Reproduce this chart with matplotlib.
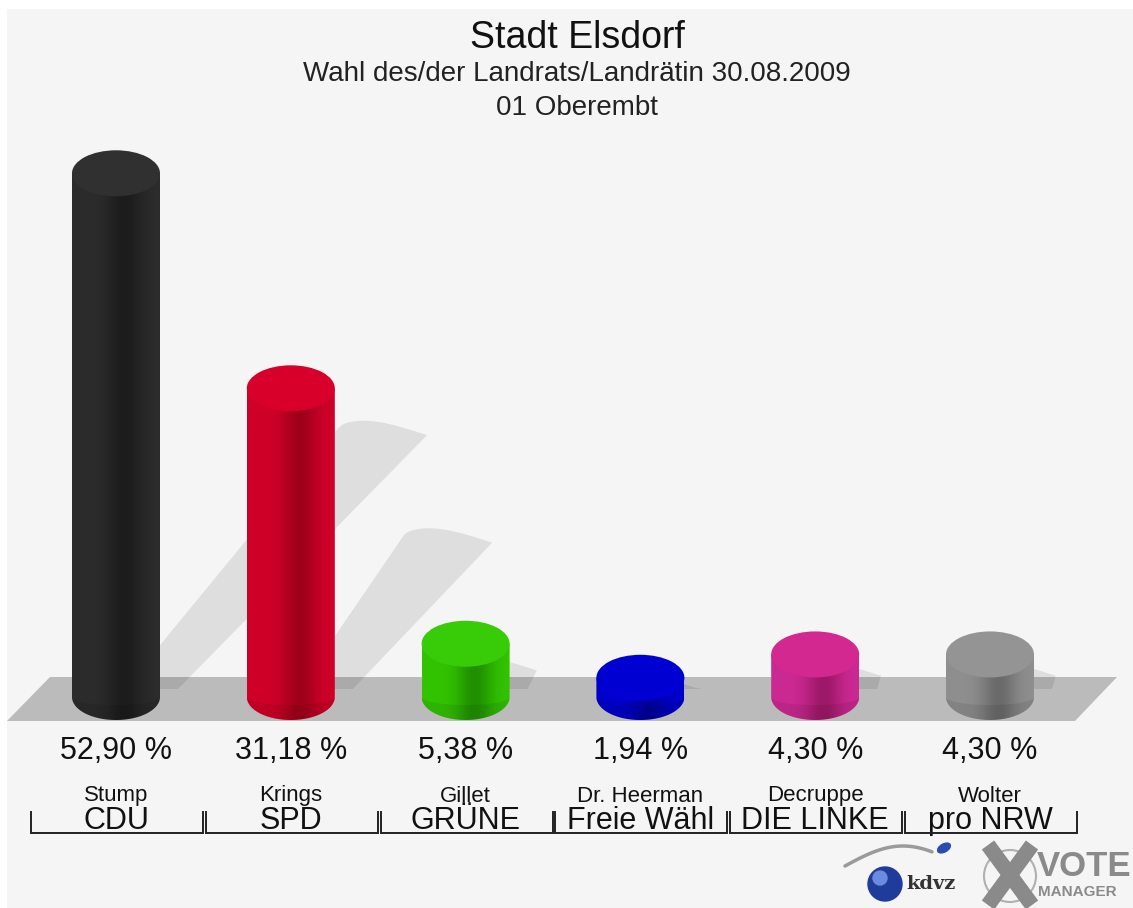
import numpy as np
import matplotlib.pyplot as plt
from matplotlib.patches import Polygon, Ellipse, PathPatch, Rectangle, Circle
from matplotlib.path import Path
import matplotlib.colors as mcolors

plt.rcParams['font.family'] = ['Liberation Sans', 'DejaVu Sans']

candidates = ['Stump', 'Krings', 'Gillet', 'Dr. Heerman', 'Decruppe', 'Wolter']
parties = ['CDU', 'SPD', 'GRÜNE', 'Freie Wähl', 'DIE LINKE', 'pro NRW']
shares = [52.90, 31.18, 5.38, 1.94, 4.30, 4.30]

bar_cols = ['#2c2c2c', '#d00029', '#33c400', '#0000cc', '#cc2a93', '#8f8f8f']
dark_cols = ['#1c1c1c', '#9e001a', '#208f00', '#00009c', '#9c1868', '#6a6a6a']
top_cols = ['#303030', '#d8002b', '#38cc08', '#0000d2', '#d2288f', '#949494']

W, H = 1133, 908
fig = plt.figure(figsize=(W / 100, H / 100), dpi=100)
fig.patch.set_facecolor('white')

# background layer in pixel coords (y down)
bg = fig.add_axes([0, 0, 1, 1])
bg.set_xlim(0, W)
bg.set_ylim(H, 0)
bg.axis('off')
bg.add_patch(Rectangle((7, 9), W - 7, H - 9, color='#f5f5f5', lw=0, zorder=0))
bg.add_patch(Polygon([(7, 721), (50, 677), (1117, 677), (1075, 721)],
                     closed=True, color='#bbbbbb', lw=0, zorder=1))

# data layer: bar i at x=i, percent on y
PX_X = 174.8   # px per bar step
PX_Y = 9.9     # px per percent
x0_px, y0_px = 116, 697
ax = fig.add_axes([0, 0, 1, 1])
ax.set_facecolor('none')
ax.axis('off')


def dx(px):
    return px / PX_X


def dy(px):
    return px / PX_Y


def Y(py):
    return (y0_px - py) / PX_Y


w = dx(88)
e = dy(46)

# shadows thrown up-right behind the columns
for i, v in enumerate(shares):
    hp = v * PX_Y
    base = dy(8)
    tl = (i + dx(-44 + 0.51 * hp), base + v * 0.5)
    tr = (i + dx(44 + 0.51 * hp), base + v * 0.5)
    arc_t = np.linspace(0, 1, 24)
    arc = [(tl[0] + (tr[0] - tl[0]) * s, tl[1] + dy(9) * np.sin(np.pi * s ** 0.7) - dy(8) * s) for s in arc_t]
    pts = [(i + dx(8), base)] + arc + [(i + dx(62), base)]
    ax.add_patch(Polygon(pts, closed=True, color='black', alpha=0.09, lw=0, zorder=2))

# cylinders
t = np.linspace(0, 1, 200)
glow = np.exp(-((t - 0.6) / 0.2) ** 2)
for i, v in enumerate(shares):
    th = np.linspace(np.pi, 2 * np.pi, 60)
    body = [(i - w / 2, v)] + [(i + w / 2 * np.cos(a), e / 2 * np.sin(a)) for a in th] + [(i + w / 2, v), (i - w / 2, v)]
    clip = PathPatch(Path(body), facecolor='none', edgecolor='none', zorder=3)
    ax.add_patch(clip)
    c1 = np.array(mcolors.to_rgb(bar_cols[i]))
    c2 = np.array(mcolors.to_rgb(dark_cols[i]))
    row = c1[None, :] * (1 - glow[:, None]) + c2[None, :] * glow[:, None]
    img = row[None, :, :]
    im = ax.imshow(img, extent=[i - w / 2, i + w / 2, -e / 2, v], aspect='auto',
                   interpolation='bilinear', zorder=3)
    im.set_clip_path(clip)
    # slightly darker lower cap
    cap = [(i + w / 2 * np.cos(a), e / 2 * np.sin(a)) for a in th] + \
          [(i + w / 2 * np.cos(a), 0.35 * e / 2 * np.sin(a)) for a in th[::-1]]
    ax.add_patch(Polygon(cap, closed=True, color='black', alpha=0.08, lw=0, zorder=3.5))
    ax.add_patch(Ellipse((i, v), w, e, color=top_cols[i], lw=0, zorder=4))

# labels
for i, v in enumerate(shares):
    ax.text(i, Y(751), f"{v:.2f} %".replace('.', ','), ha='center', va='center',
            fontsize=22, color='#111111')
    ax.text(i, Y(796), candidates[i], ha='center', va='center', fontsize=16, color='#111111')
    ax.text(i, Y(821), parties[i], ha='center', va='center', fontsize=22, color='#111111')
    xl, xr = i + dx(-85), i + dx(87)
    ax.plot([xl, xl, xr, xr], [Y(812), Y(833), Y(833), Y(812)], color='#222222', lw=1.4,
            solid_joinstyle='miter', zorder=5)

ax.set_xlim(-x0_px / PX_X, (W - x0_px) / PX_X)
ax.set_ylim(-(H - y0_px) / PX_Y, y0_px / PX_Y)

# titles
fig.text(577 / W, 1 - 38 / H, 'Stadt Elsdorf', ha='center', va='center', fontsize=27, color='#111111')
fig.text(577 / W, 1 - 74 / H, 'Wahl des/der Landrats/Landrätin 30.08.2009', ha='center', va='center',
         fontsize=20, color='#222222')
fig.text(577 / W, 1 - 108 / H, '01 Oberembt', ha='center', va='center', fontsize=20, color='#222222')

# logo (kdvz / VOTE MANAGER)
sx = np.linspace(845, 932, 40)
sy = 866 - 20 * np.sin((sx - 845) / 87 * np.pi * 0.75)
bg.plot(sx, sy, color='#9a9a9a', lw=2.5, solid_capstyle='round', zorder=2)
bg.add_patch(Ellipse((944, 848), 14, 8, angle=-30, color='#2a4cb0', zorder=3))
bg.add_patch(Circle((885, 884), 17, color='#1f3c9a', zorder=3))
bg.add_patch(Circle((880, 878), 7, color='#6c8be0', zorder=3))
bg.text(906, 884, 'kdvz', fontsize=14, fontweight='bold', family='DejaVu Serif',
        color='#333333', va='center', ha='left', zorder=3)
bg.plot([988, 1032], [845, 905], color='#8a8a8a', lw=11, solid_capstyle='butt', zorder=3)
bg.plot([1032, 988], [845, 905], color='#8a8a8a', lw=11, solid_capstyle='butt', zorder=3)
bg.add_patch(Circle((1010, 876), 26, fill=False, edgecolor='#b0b0b0', lw=1.5, zorder=2))
bg.text(1037, 866, 'VOTE', fontsize=25, fontweight='bold', color='#8a8a8a', va='center', ha='left', zorder=3)
bg.text(1038, 892, 'MANAGER', fontsize=11, fontweight='bold', color='#8a8a8a', va='center', ha='left', zorder=3)

fig.savefig('out.png', dpi=100, facecolor='white')
